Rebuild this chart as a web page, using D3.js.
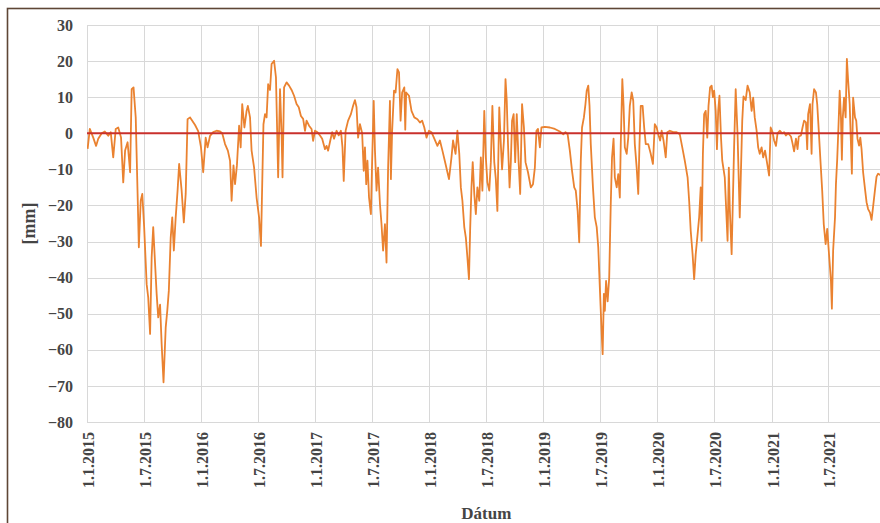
<!DOCTYPE html>
<html>
<head>
<meta charset="utf-8">
<script src="https://cdn.jsdelivr.net/npm/d3@7"></script>
<style>
  html, body { margin: 0; padding: 0; background: #fff; }
  svg { display: block; }
  text { font-family: "Liberation Serif", "Times New Roman", serif; font-weight: bold; }
</style>
</head>
<body>
<svg id="chart" width="880" height="523"></svg>
<script>
// Displacement readings [date, mm]
const series = [
  ["2015-01-03", -4.3], ["2015-01-10", 1.2], ["2015-01-21", -1.2], ["2015-01-30", -3.5],
  ["2015-02-06", -1.5], ["2015-02-17", 0], ["2015-02-27", 0.5], ["2015-03-10", -0.7],
  ["2015-03-18", 0.3], ["2015-03-26", -6.7], ["2015-04-03", 1.2], ["2015-04-11", 1.6],
  ["2015-04-20", -1.2], ["2015-04-27", -13.6], ["2015-05-03", -4.8], ["2015-05-11", -2.5],
  ["2015-05-19", -10.8], ["2015-05-24", 12.2], ["2015-05-30", 12.7], ["2015-06-06", 4.4],
  ["2015-06-12", -16.8], ["2015-06-16", -31.6], ["2015-06-22", -18.7], ["2015-06-27", -16.8],
  ["2015-07-03", -26], ["2015-07-11", -41.8], ["2015-07-16", -45.5], ["2015-07-22", -55.6],
  ["2015-07-27", -34.4], ["2015-08-01", -26], ["2015-08-07", -36.2], ["2015-08-12", -44.5],
  ["2015-08-17", -51], ["2015-08-23", -47.5], ["2015-08-28", -58.4], ["2015-09-03", -69],
  ["2015-09-10", -53.8], ["2015-09-15", -49.2], ["2015-09-20", -43.6], ["2015-09-26", -28.9],
  ["2015-10-01", -23.3], ["2015-10-06", -32.5], ["2015-10-12", -23.3], ["2015-10-18", -15.9],
  ["2015-10-23", -8.5], ["2015-10-31", -15.9], ["2015-11-07", -24.7], ["2015-11-13", -16.8],
  ["2015-11-19", 3.9], ["2015-11-27", 4.4], ["2015-12-04", 3.5], ["2015-12-13", 2.3],
  ["2015-12-23", 0.6], ["2016-01-01", -3.9], ["2016-01-08", -10.8], ["2016-01-16", -1.2],
  ["2016-01-22", -3.9], ["2016-01-30", -0.7], ["2016-02-09", 0.3], ["2016-02-20", 0.7],
  ["2016-03-02", 0.5], ["2016-03-09", 0], ["2016-03-18", -3], ["2016-03-27", -4.8],
  ["2016-04-03", -7.6], ["2016-04-08", -18.7], ["2016-04-14", -8.9], ["2016-04-19", -14.1],
  ["2016-04-25", -8.9], ["2016-05-02", 2.1], ["2016-05-07", -3.9], ["2016-05-12", 8.1],
  ["2016-05-19", 1.6], ["2016-05-26", 6.2], ["2016-05-30", 7.6], ["2016-06-06", 4.4],
  ["2016-06-11", -4.8], ["2016-06-19", -9.5], ["2016-06-27", -17.8], ["2016-07-05", -23.3],
  ["2016-07-11", -31.2], ["2016-07-15", -14.1], ["2016-07-19", 2.5], ["2016-07-24", 5.3],
  ["2016-07-29", 4.4], ["2016-08-03", 13.6], ["2016-08-09", 12], ["2016-08-14", 19.2],
  ["2016-08-22", 20.1], ["2016-08-28", 15.5], ["2016-09-01", 0], ["2016-09-04", -12.2],
  ["2016-09-10", 12.2], ["2016-09-15", 0], ["2016-09-18", -12.2], ["2016-09-23", 12.7],
  ["2016-10-01", 14.1], ["2016-10-09", 13.2], ["2016-10-17", 12], ["2016-10-25", 10.4],
  ["2016-11-02", 8.1], ["2016-11-09", 7.2], ["2016-11-16", 4.8], ["2016-11-23", 4.0],
  ["2016-11-29", 0.7], ["2016-12-04", 3.5], ["2016-12-12", 2.1], ["2016-12-20", 1.2],
  ["2016-12-25", -2.1], ["2016-12-31", 0.7], ["2017-01-08", 0.3], ["2017-01-16", -0.6],
  ["2017-01-23", -1.5], ["2017-02-01", -4.4], ["2017-02-06", -3.5], ["2017-02-11", -4.8],
  ["2017-02-18", -2], ["2017-02-24", 0.3], ["2017-03-02", -1.5], ["2017-03-10", 0.7],
  ["2017-03-17", -0.6], ["2017-03-24", 0.7], ["2017-03-29", -3.9], ["2017-04-02", -13.2],
  ["2017-04-08", 0.7], ["2017-04-16", 3.5], ["2017-04-25", 5.3], ["2017-05-02", 7.6],
  ["2017-05-08", 9.2], ["2017-05-13", 7.2], ["2017-05-18", -1.2], ["2017-05-24", 2.5],
  ["2017-05-31", 0], ["2017-06-05", -10.4], ["2017-06-09", -3.9], ["2017-06-13", -14.1],
  ["2017-06-17", -7.6], ["2017-06-22", -17.8], ["2017-06-28", -22.4], ["2017-07-02", -7.6],
  ["2017-07-07", 9], ["2017-07-11", -4.8], ["2017-07-16", -15.9], ["2017-07-21", -9.5],
  ["2017-07-27", -19.6], ["2017-08-01", -25.2], ["2017-08-06", -32.5], ["2017-08-12", -25.2],
  ["2017-08-17", -35.8], ["2017-08-22", -10], ["2017-08-28", 9], ["2017-08-31", -12.7],
  ["2017-09-04", 0.7], ["2017-09-10", 11.8], ["2017-09-15", 11.3], ["2017-09-21", 17.8],
  ["2017-09-26", 16.9], ["2017-10-01", 3.5], ["2017-10-06", 11.3], ["2017-10-13", 12.7],
  ["2017-10-16", 1.0], ["2017-10-19", 11.3], ["2017-10-28", 10.4], ["2017-11-05", 6.2],
  ["2017-11-14", 4.4], ["2017-11-24", 3.9], ["2017-12-02", 3], ["2017-12-09", 3.5],
  ["2017-12-16", 1.6], ["2017-12-23", -1.2], ["2017-12-31", 0.7], ["2018-01-08", 0.3],
  ["2018-01-17", -1.5], ["2018-01-27", -3.5], ["2018-02-04", -2], ["2018-02-12", -4.8],
  ["2018-02-22", -8.5], ["2018-03-05", -12.7], ["2018-03-13", -6.7], ["2018-03-18", -2],
  ["2018-03-26", -5.7], ["2018-04-01", 0.7], ["2018-04-07", -5.7], ["2018-04-12", -15],
  ["2018-04-17", -18.7], ["2018-04-23", -26], ["2018-04-28", -28.9], ["2018-05-03", -34.4],
  ["2018-05-08", -40.4], ["2018-05-12", -26], ["2018-05-16", -15], ["2018-05-20", -8],
  ["2018-05-25", -16.8], ["2018-05-30", -22.4], ["2018-06-04", -15], ["2018-06-10", -18.7],
  ["2018-06-15", -6.7], ["2018-06-20", -15.9], ["2018-06-26", 6.2], ["2018-07-01", -6.7],
  ["2018-07-06", -13.6], ["2018-07-12", -15.9], ["2018-07-17", -8], ["2018-07-22", 7.6],
  ["2018-07-28", -8], ["2018-08-02", -12.7], ["2018-08-07", -21.5], ["2018-08-13", 7.2],
  ["2018-08-18", -3], ["2018-08-22", -10], ["2018-08-28", -2], ["2018-09-02", 15],
  ["2018-09-06", 9], ["2018-09-10", -3], ["2018-09-15", -15], ["2018-09-19", -8],
  ["2018-09-23", 3.5], ["2018-09-28", 5.3], ["2018-10-03", -8], ["2018-10-08", 5.3],
  ["2018-10-14", -8], ["2018-10-19", -16.8], ["2018-10-25", 8.1], ["2018-10-31", 1.6],
  ["2018-11-05", -8], ["2018-11-13", -10.8], ["2018-11-22", -15], ["2018-11-29", -14.1],
  ["2018-12-05", -9.5], ["2018-12-10", 0.7], ["2018-12-15", 1.2], ["2018-12-21", -3.9],
  ["2018-12-26", 1.6], ["2019-01-06", 1.8], ["2019-01-22", 1.6], ["2019-02-07", 1.2],
  ["2019-02-23", 0.5], ["2019-03-06", -0.3], ["2019-03-13", 0.3], ["2019-03-20", -0.3],
  ["2019-03-27", -4.8], ["2019-04-03", -10.4], ["2019-04-10", -15], ["2019-04-15", -15.9],
  ["2019-04-21", -21.5], ["2019-04-26", -30.2], ["2019-05-01", -7.6], ["2019-05-05", 1.6],
  ["2019-05-11", 4.4], ["2019-05-16", 8.1], ["2019-05-20", 11.8], ["2019-05-25", 13.2],
  ["2019-05-29", 7.6], ["2019-06-02", -3], ["2019-06-09", -15], ["2019-06-15", -23.3],
  ["2019-06-21", -26], ["2019-06-26", -31.6], ["2019-07-01", -42.7], ["2019-07-07", -55.6],
  ["2019-07-10", -61.2], ["2019-07-14", -44.5], ["2019-07-17", -49.2], ["2019-07-21", -40.9],
  ["2019-07-26", -46.6], ["2019-07-31", -40], ["2019-08-05", -19.6], ["2019-08-09", -6.7],
  ["2019-08-14", -1.5], ["2019-08-18", -12.2], ["2019-08-24", -15], ["2019-08-29", -11.3],
  ["2019-09-03", -17.8], ["2019-09-06", -3], ["2019-09-11", 15], ["2019-09-15", 7.6],
  ["2019-09-19", -3.9], ["2019-09-25", -5.7], ["2019-09-30", -1.2], ["2019-10-05", 7.6],
  ["2019-10-11", 11.3], ["2019-10-16", 9], ["2019-10-21", -3], ["2019-10-27", -9.5],
  ["2019-11-01", -16.8], ["2019-11-05", -3], ["2019-11-09", 7.6], ["2019-11-15", 7.6],
  ["2019-11-20", 1.6], ["2019-11-25", -3], ["2019-12-03", -3], ["2019-12-11", -5.7],
  ["2019-12-18", -8.5], ["2019-12-24", 2.5], ["2019-12-30", 1.6], ["2020-01-04", -0.3],
  ["2020-01-10", -2], ["2020-01-15", 0.7], ["2020-01-21", -2], ["2020-01-28", -6.7],
  ["2020-02-02", 0.3], ["2020-02-10", 0.7], ["2020-02-21", 0.3], ["2020-03-03", 0.3],
  ["2020-03-13", -0.3], ["2020-03-21", -3.9], ["2020-03-29", -7.6], ["2020-04-07", -12.2],
  ["2020-04-12", -18.7], ["2020-04-17", -27], ["2020-04-23", -33.5], ["2020-04-28", -40.4],
  ["2020-05-03", -33.5], ["2020-05-09", -28], ["2020-05-14", -23.3], ["2020-05-19", -15],
  ["2020-05-22", -29.8], ["2020-05-26", -5.7], ["2020-05-30", 5.3], ["2020-06-04", 6.2],
  ["2020-06-09", -1.2], ["2020-06-13", 7.6], ["2020-06-18", 12.7], ["2020-06-23", 13.2],
  ["2020-06-27", 10], ["2020-07-01", 11.8], ["2020-07-06", 6.2], ["2020-07-10", -4.4],
  ["2020-07-14", 6.2], ["2020-07-18", 10.4], ["2020-07-23", -1.2], ["2020-07-27", -7.6],
  ["2020-08-04", -12.2], ["2020-08-13", -29.8], ["2020-08-17", -9.5], ["2020-08-20", -20.5],
  ["2020-08-26", -33.5], ["2020-09-03", -3.5], ["2020-09-08", 12.2], ["2020-09-14", -0.3],
  ["2020-09-21", -23.3], ["2020-09-29", 3.5], ["2020-10-03", 10.2], ["2020-10-10", 9.2],
  ["2020-10-16", 13.2], ["2020-10-23", 11.3], ["2020-10-29", 6.2], ["2020-11-03", 9.9],
  ["2020-11-08", 4.4], ["2020-11-14", 0.7], ["2020-11-19", -3.9], ["2020-11-24", -5.7],
  ["2020-11-30", -3.9], ["2020-12-05", -6.7], ["2020-12-11", -4.8], ["2020-12-18", -8.5],
  ["2020-12-24", -11.7], ["2020-12-29", 1.6], ["2021-01-04", 0.3], ["2021-01-09", -2],
  ["2021-01-15", -3.5], ["2021-01-20", 0], ["2021-01-27", 0.7], ["2021-02-04", 0],
  ["2021-02-10", 0.3], ["2021-02-16", -0.6], ["2021-02-23", 0], ["2021-03-04", -0.9],
  ["2021-03-09", -2.8], ["2021-03-14", -5], ["2021-03-20", -1.5], ["2021-03-25", -4.4],
  ["2021-03-29", -0.9], ["2021-04-05", -0.6], ["2021-04-10", 1.6], ["2021-04-15", 3.5],
  ["2021-04-21", 3], ["2021-04-25", -4.4], ["2021-04-28", 5.3], ["2021-05-04", 8.1],
  ["2021-05-09", -5.7], ["2021-05-12", 8.1], ["2021-05-17", 12.2], ["2021-05-23", 11.3],
  ["2021-05-27", 8.1], ["2021-06-01", 0.7], ["2021-06-07", -8.5], ["2021-06-12", -15.9],
  ["2021-06-17", -25.2], ["2021-06-23", -30.7], ["2021-06-28", -26.5], ["2021-07-03", -32.5],
  ["2021-07-10", -40.9], ["2021-07-13", -48.6], ["2021-07-17", -32.5], ["2021-07-23", -23.3],
  ["2021-07-26", -14.1], ["2021-07-30", -7.3], ["2021-08-03", 1.6], ["2021-08-07", 11.8],
  ["2021-08-11", 4.4], ["2021-08-14", -7.3], ["2021-08-17", 4.4], ["2021-08-21", 9.9],
  ["2021-08-26", 4.4], ["2021-08-30", 20.6], ["2021-09-03", 14.6], ["2021-09-08", 8.1],
  ["2021-09-12", -2.8], ["2021-09-15", -11.2], ["2021-09-19", 9.9], ["2021-09-25", 4.4],
  ["2021-09-29", 3.5], ["2021-10-03", -1.5], ["2021-10-08", -3.4], ["2021-10-12", -1.2],
  ["2021-10-16", -4.4], ["2021-10-21", -10.8], ["2021-10-27", -15.4], ["2021-11-01", -19.1],
  ["2021-11-06", -21], ["2021-11-12", -22], ["2021-11-17", -24], ["2021-11-22", -20.3],
  ["2021-11-28", -15.7], ["2021-12-03", -12], ["2021-12-08", -11.2], ["2021-12-14", -11.5],
  ["2021-12-20", -12]
];

// Axis ticks
const yTicks = [30, 20, 10, 0, -10, -20, -30, -40, -50, -60, -70, -80];
const xTickDates = [
  "2015-01-01", "2015-07-01", "2016-01-01", "2016-07-01", "2017-01-01", "2017-07-01",
  "2018-01-01", "2018-07-01", "2019-01-01", "2019-07-01", "2020-01-01", "2020-07-01",
  "2021-01-01", "2021-07-01"
];
const xDomain = ["2015-01-01", "2022-01-01"];
const yDomain = [-80, 30];
const referenceLevel = 0;
const xTitle = "Dátum";
const yTitle = "[mm]";

const parse = d3.timeParse("%Y-%m-%d");
const fmt = d3.timeFormat("%-d.%-m.%Y");
const data = series.map(([d, v]) => ({ date: parse(d), value: v }));

const svg = d3.select("#chart");
const W = 880, H = 523;
const plot = { left: 87, right: 885.6, top: 25, bottom: 422 };

const x = d3.scaleTime().domain(xDomain.map(parse)).range([plot.left, plot.right]);
const y = d3.scaleLinear().domain(yDomain).range([plot.bottom, plot.top]);

svg.append("rect").attr("width", W).attr("height", H).attr("fill", "#fff");

// outer frame
svg.append("rect")
  .attr("x", 7.5).attr("y", 8.5)
  .attr("width", 900).attr("height", 600)
  .attr("fill", "none")
  .attr("stroke", "#5e4636")
  .attr("stroke-width", 1.6);

const grid = svg.append("g").attr("stroke", "#d8d8d8").attr("stroke-width", 1);
// horizontal gridlines
grid.selectAll("line.h").data(yTicks).join("line")
  .attr("class", "h")
  .attr("x1", plot.left).attr("x2", plot.right)
  .attr("y1", d => Math.round(y(d)) + 0.5).attr("y2", d => Math.round(y(d)) + 0.5);
// vertical gridlines
grid.selectAll("line.v").data(xTickDates.map(parse)).join("line")
  .attr("class", "v")
  .attr("x1", d => Math.round(x(d)) + 0.5).attr("x2", d => Math.round(x(d)) + 0.5)
  .attr("y1", plot.top).attr("y2", plot.bottom);

// y axis labels
const yAxis = d3.axisLeft(y).tickValues(yTicks).tickSize(0).tickPadding(14);
svg.append("g")
  .attr("transform", `translate(${plot.left},0)`)
  .call(yAxis)
  .call(g => g.select(".domain").remove())
  .call(g => g.selectAll("text")
    .attr("fill", "#454545")
    .attr("font-size", 16)
    .style("font-family", '"Liberation Serif", serif')
    .style("font-weight", "bold"));

// x axis labels, rotated
const xAxis = d3.axisBottom(x).tickValues(xTickDates.map(parse)).tickFormat(fmt).tickSize(0);
svg.append("g")
  .attr("transform", `translate(0,${plot.bottom})`)
  .call(xAxis)
  .call(g => g.select(".domain").remove())
  .call(g => g.selectAll("text")
    .attr("fill", "#454545")
    .attr("font-size", 16)
    .style("font-family", '"Liberation Serif", serif')
    .style("font-weight", "bold")
    .attr("text-anchor", "end")
    .attr("transform", "rotate(-90)")
    .attr("x", -10)
    .attr("y", 1)
    .attr("dy", "0.35em"));

// displacement line
const line = d3.line().x(d => x(d.date)).y(d => y(d.value));
svg.append("defs").append("clipPath").attr("id", "clip")
  .append("rect").attr("x", plot.left).attr("y", plot.top - 10)
  .attr("width", plot.right - plot.left).attr("height", plot.bottom - plot.top + 20);
svg.append("path")
  .datum(data)
  .attr("clip-path", "url(#clip)")
  .attr("fill", "none")
  .attr("stroke", "#ea8230")
  .attr("stroke-width", 1.8)
  .attr("stroke-linejoin", "round")
  .attr("d", line);

// zero reference line
svg.append("line")
  .attr("x1", plot.left).attr("x2", plot.right)
  .attr("y1", y(referenceLevel)).attr("y2", y(referenceLevel))
  .attr("stroke", "#c9302c")
  .attr("stroke-width", 2);

// axis titles
svg.append("text")
  .attr("x", (plot.left + plot.right) / 2)
  .attr("y", 519)
  .attr("text-anchor", "middle")
  .attr("font-size", 17)
  .attr("fill", "#454545")
  .text(xTitle);

svg.append("text")
  .attr("transform", `translate(35,${(plot.top + plot.bottom) / 2}) rotate(-90)`)
  .attr("text-anchor", "middle")
  .attr("font-size", 18)
  .attr("fill", "#454545")
  .text(yTitle);
</script>
</body>
</html>
